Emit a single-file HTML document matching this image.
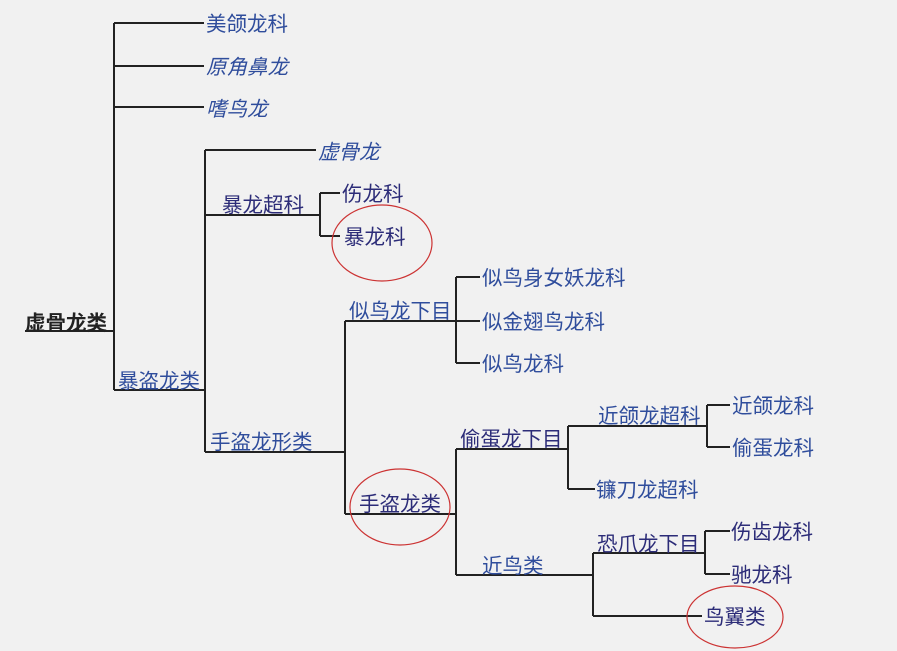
<!DOCTYPE html>
<html><head><meta charset="utf-8"><style>
html,body{margin:0;padding:0;background:#f1f1f1;}
svg{display:block;}
text{font-family:"Liberation Sans","Noto Sans CJK SC",sans-serif;font-size:20.5px;fill:#2f4d9c;}
.d{fill:#2c2c78;}
.i{font-style:italic;}
.k{fill:#222;font-weight:bold;}
</style></head><body>
<svg width="897" height="651" viewBox="0 0 897 651">
<rect width="897" height="651" fill="#f1f1f1"/>
<g stroke="#222" stroke-width="2" fill="none">
<path d="M25 331H114M114 23V390M114 23H204M114 66H204M114 107H204M114 390H205"/>
<path d="M205 150V452M205 150H316M205 215H320M320 193V236M320 193H340M320 236H340M205 452H345"/>
<path d="M345 321V514M345 321H456M456 277V363M456 277H480M456 321H480M456 363H480M345 514H456"/>
<path d="M456 449V575M456 449H568M568 426V489M568 426H707M707 405V447M707 405H730M707 447H730M568 489H595"/>
<path d="M456 575H593M593 553V616M593 553H705M705 531V574M705 531H730M705 574H730M593 616H702"/>
</g>
<g stroke="#cc3333" stroke-width="1.2" fill="none">
<ellipse cx="382" cy="243" rx="50" ry="38"/>
<ellipse cx="400" cy="507" rx="50" ry="38"/>
<ellipse cx="735" cy="617" rx="48" ry="31"/>
</g>
<text class="k" x="25" y="330">虚骨龙类</text>
<text x="206" y="31">美颌龙科</text>
<text class="i" x="206" y="74">原角鼻龙</text>
<text class="i" x="206" y="116">嗜鸟龙</text>
<text x="118" y="388">暴盗龙类</text>
<text class="i" x="318" y="159">虚骨龙</text>
<text class="d" x="222" y="212">暴龙超科</text>
<text class="d" x="342" y="201">伤龙科</text>
<text class="d" x="344" y="244">暴龙科</text>
<text x="210" y="449">手盗龙形类</text>
<text x="349" y="318">似鸟龙下目</text>
<text x="482" y="285">似鸟身女妖龙科</text>
<text x="482" y="329">似金翅鸟龙科</text>
<text x="482" y="371">似鸟龙科</text>
<text class="d" x="359" y="511">手盗龙类</text>
<text class="d" x="460" y="446">偷蛋龙下目</text>
<text x="598" y="423">近颌龙超科</text>
<text x="732" y="413">近颌龙科</text>
<text x="732" y="455">偷蛋龙科</text>
<text x="596" y="497">镰刀龙超科</text>
<text x="482" y="573">近鸟类</text>
<text class="d" x="597" y="551">恐爪龙下目</text>
<text class="d" x="731" y="539">伤齿龙科</text>
<text class="d" x="731" y="582">驰龙科</text>
<text class="d" x="704" y="624">鸟翼类</text>
</svg>
</body></html>
